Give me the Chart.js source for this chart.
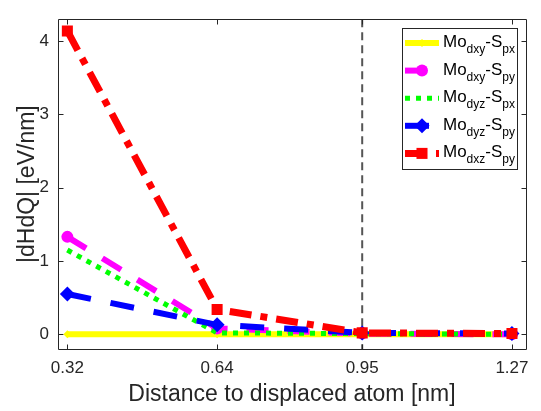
<!DOCTYPE html>
<html>
<head>
<meta charset="utf-8">
<script src="https://cdn.jsdelivr.net/npm/chart.js@4/dist/chart.umd.min.js"></script>
<style>
  html, body { margin: 0; padding: 0; background: #ffffff; }
  canvas { display: block; }
</style>
</head>
<body>
<canvas id="c" width="541" height="411"></canvas>
<script>
// ---- data ----
const xValues = [0.32, 0.64, 0.95, 1.27];
const xTickLabels = ['0.32', '0.64', '0.95', '1.27'];
const yTickValues = [0, 1, 2, 3, 4];
const seriesLabels = ['Mo_{dxy}-S_{px}', 'Mo_{dxy}-S_{py}', 'Mo_{dyz}-S_{px}', 'Mo_{dyz}-S_{py}', 'Mo_{dxz}-S_{py}'];
const dxyPx = [0, 0, 0, 0];
const dxyPy = [1.33, 0.08, 0.01, 0.00];
const dyzPx = [1.15, 0.02, 0.01, 0.00];
const dyzPy = [0.55, 0.13, 0.02, 0.01];
const dxzPy = [4.14, 0.34, 0.02, 0.01];
const referenceLineX = 0.95;
const xTitle = 'Distance to displaced atom [nm]';
const yTitle = '|dHdQ| [eV/nm]';

const FONT = "'Liberation Sans', Arial, Helvetica, sans-serif";
const AXIS_COLOR = '#262626';

const seriesValues = [dxyPx, dxyPy, dyzPx, dyzPy, dxzPy];
const styles = [
  { color: '#ffff00', width: 6, dash: [], point: 'rectRot', r: 4 },
  { color: '#ff00ff', width: 6, dash: [22, 19], point: 'circle', r: 6 },
  { color: '#00ff00', width: 5, dash: [5, 6], point: false, r: 0 },
  { color: '#0000ff', width: 6, dash: [24, 20], point: 'rectRot', r: 7.5 },
  { color: '#ff0000', width: 7, dash: [22, 9, 7, 9], point: 'rect', r: 7.8 }
];

const datasets = seriesValues.map((vals, i) => {
  const s = styles[i];
  return {
    label: seriesLabels[i],
    data: xValues.map((x, j) => ({ x: x, y: vals[j] })),
    borderColor: s.color,
    backgroundColor: s.color,
    borderWidth: s.width,
    borderDash: s.dash,
    borderCapStyle: 'butt',
    pointStyle: s.point || 'circle',
    pointRadius: s.point ? s.r : 0,
    pointBorderWidth: 0,
    pointBackgroundColor: s.color,
    pointBorderColor: s.color,
    pointHoverRadius: 0,
    tension: 0,
    fill: false,
    order: seriesValues.length - i
  };
});

function parseLabel(str) {
  const parts = [];
  const re = /_\{([^}]*)\}|([^_]+)/g;
  let m;
  while ((m = re.exec(str)) !== null) {
    if (m[1] !== undefined) parts.push({ t: m[1], sub: true });
    else parts.push({ t: m[2], sub: false });
  }
  return parts;
}

function drawMarker(ctx, style, x, y, r, color) {
  ctx.save();
  ctx.fillStyle = color;
  ctx.beginPath();
  if (style === 'circle') {
    ctx.arc(x, y, r, 0, Math.PI * 2);
  } else if (style === 'rect') {
    const h = r * Math.SQRT1_2;
    ctx.rect(x - h, y - h, 2 * h, 2 * h);
  } else if (style === 'rectRot') {
    ctx.moveTo(x, y - r); ctx.lineTo(x + r, y); ctx.lineTo(x, y + r); ctx.lineTo(x - r, y); ctx.closePath();
  }
  ctx.fill();
  ctx.restore();
}

const framePlugin = {
  id: 'frame',
  beforeDatasetsDraw(chart) {
    const { ctx, chartArea: a, scales } = chart;
    const x = scales.x, y = scales.y;
    ctx.save();
    // dashed reference line
    const xv = x.getPixelForValue(referenceLineX);
    ctx.strokeStyle = '#555555';
    ctx.lineWidth = 2;
    ctx.setLineDash([8, 5]);
    ctx.beginPath();
    ctx.moveTo(xv, a.top);
    ctx.lineTo(xv, a.bottom);
    ctx.stroke();
    ctx.setLineDash([]);
    // box
    ctx.strokeStyle = AXIS_COLOR;
    ctx.lineWidth = 1;
    const L = Math.round(a.left) + 0.5, R = Math.round(a.right) + 0.5;
    const T = Math.round(a.top) + 0.5, B = Math.round(a.bottom) + 0.5;
    ctx.beginPath();
    ctx.rect(L, T, R - L, B - T);
    ctx.stroke();
    // inside ticks
    const tl = 5;
    ctx.beginPath();
    xValues.forEach(v => {
      const px = Math.round(x.getPixelForValue(v)) + 0.5;
      ctx.moveTo(px, B); ctx.lineTo(px, B - tl);
      ctx.moveTo(px, T); ctx.lineTo(px, T + tl);
    });
    yTickValues.forEach(v => {
      const py = Math.round(y.getPixelForValue(v)) + 0.5;
      ctx.moveTo(L, py); ctx.lineTo(L + tl, py);
      ctx.moveTo(R, py); ctx.lineTo(R - tl, py);
    });
    ctx.stroke();
    ctx.restore();
  },
  afterDraw(chart) {
    const { ctx, chartArea: a } = chart;
    const bw = 115, bh = 141;
    const bx = Math.round(a.right) - 9 - bw;
    const by = Math.round(a.top) + 9;
    ctx.save();
    ctx.fillStyle = '#ffffff';
    ctx.fillRect(bx, by, bw, bh);
    ctx.strokeStyle = AXIS_COLOR;
    ctx.lineWidth = 1;
    ctx.strokeRect(bx + 0.5, by + 0.5, bw, bh);
    seriesLabels.forEach((lab, i) => {
      const s = styles[i];
      const ry = by + 15 + i * 27.6;
      // line sample
      ctx.save();
      ctx.beginPath();
      ctx.rect(bx + 2, by + 1, 36, bh - 2);
      ctx.clip();
      ctx.strokeStyle = s.color;
      ctx.lineWidth = s.width;
      ctx.lineCap = 'butt';
      ctx.setLineDash(s.dash);
      ctx.beginPath();
      ctx.moveTo(bx + 3, ry);
      ctx.lineTo(bx + 37, ry);
      ctx.stroke();
      ctx.restore();
      if (s.point) drawMarker(ctx, s.point, bx + 20, ry, s.r, s.color);
      // label text with subscripts
      let tx = bx + 41;
      ctx.fillStyle = '#000000';
      ctx.textBaseline = 'alphabetic';
      ctx.textAlign = 'left';
      parseLabel(lab).forEach(p => {
        if (p.sub) {
          ctx.font = '12px ' + FONT;
          ctx.fillText(p.t, tx, ry + 10);
        } else {
          ctx.font = '17px ' + FONT;
          ctx.fillText(p.t, tx, ry + 4);
        }
        tx += ctx.measureText(p.t).width;
      });
    });
    ctx.restore();
  }
};

Chart.defaults.font.family = FONT;
Chart.defaults.color = AXIS_COLOR;

new Chart(document.getElementById('c'), {
  type: 'line',
  data: { datasets: datasets },
  options: {
    responsive: false,
    devicePixelRatio: 1,
    animation: false,
    events: [],
    layout: { padding: { top: 3, right: 15, left: 0, bottom: 0 } },
    plugins: { legend: { display: false }, tooltip: { enabled: false } },
    scales: {
      x: {
        type: 'linear',
        min: 0.3,
        max: 1.3,
        afterBuildTicks: s => { s.ticks = xValues.map(v => ({ value: v })); },
        afterFit: s => { s.height = 62; },
        ticks: {
          autoSkip: false,
          maxRotation: 0,
          padding: 9,
          color: AXIS_COLOR,
          font: { size: 17, family: FONT },
          callback: (v, i) => xTickLabels[i]
        },
        grid: { display: false, drawTicks: false },
        border: { display: false },
        title: {
          display: true,
          text: xTitle,
          color: AXIS_COLOR,
          font: { size: 23, family: FONT },
          padding: { top: 0, bottom: 3 }
        }
      },
      y: {
        type: 'linear',
        min: -0.2,
        max: 4.3,
        afterBuildTicks: s => { s.ticks = yTickValues.map(v => ({ value: v })); },
        afterFit: s => { s.width = 58; },
        ticks: {
          padding: 9,
          color: AXIS_COLOR,
          font: { size: 17, family: FONT },
          callback: v => String(v)
        },
        grid: { display: false, drawTicks: false },
        border: { display: false },
        title: {
          display: true,
          text: yTitle,
          color: AXIS_COLOR,
          font: { size: 23, family: FONT },
          padding: { top: 14, bottom: 0 }
        }
      }
    }
  },
  plugins: [framePlugin]
});
</script>
</body>
</html>
